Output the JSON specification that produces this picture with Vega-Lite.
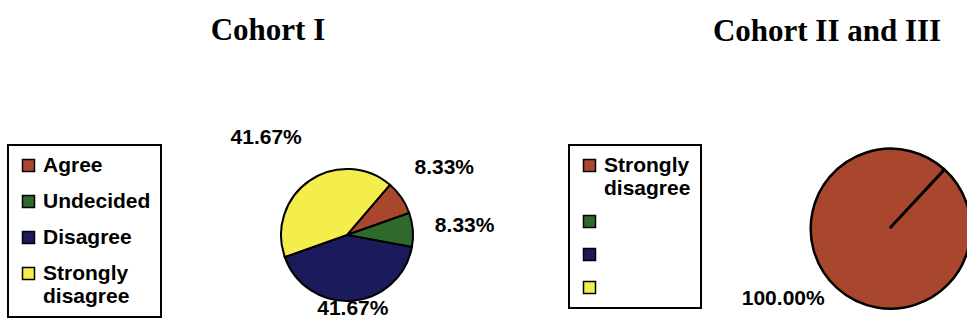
{
  "$schema": "https://vega.github.io/schema/vega-lite/v6.json",
  "background": "white",
  "padding": {"left": 7, "top": 14, "right": 0, "bottom": 0},
  "config": {"view": {"stroke": null}, "font": "Liberation Sans"},
  "spacing": 363,
  "bounds": "flush",
  "hconcat": [
    {
      "width": 200,
      "height": 200,
      "title": {"text": "Cohort I", "font": "Liberation Serif", "fontSize": 31, "fontWeight": "bold", "color": "black", "anchor": "middle", "frame": "group", "dx": -79, "offset": 80},
      "data": {"values": [
        {"cat": "Agree", "v": 0.0833, "k": 1},
        {"cat": "Undecided", "v": 0.0833, "k": 2},
        {"cat": "Disagree", "v": 0.4167, "k": 3},
        {"cat": "Strongly|disagree", "v": 0.4167, "k": 4}
      ]},
      "encoding": {
        "theta": {"field": "v", "type": "quantitative", "stack": true, "scale": {"range": [0.707, 6.990]}},
        "order": {"field": "k", "type": "quantitative"}
      },
      "layer": [
        {
          "mark": {"type": "arc", "outerRadius": 66, "stroke": "black", "strokeWidth": 2},
          "encoding": {
            "color": {
              "field": "cat", "type": "nominal",
              "scale": {"domain": ["Agree", "Undecided", "Disagree", "Strongly|disagree"], "range": ["#a8472d", "#2f6a2c", "#1b1a5a", "#f4ee4c"]},
              "legend": {
                "orient": "none", "legendX": -239, "legendY": 10, "title": null,
                "labelFont": "Liberation Sans", "labelFontSize": 21, "labelFontWeight": "bold", "labelColor": "black",
                "labelExpr": "split(datum.label, '|')",
                "symbolType": "square", "symbolSize": 144, "symbolStrokeColor": "black", "symbolStrokeWidth": 1.5,
                "strokeColor": "black", "padding": 10, "rowPadding": 14, "labelOffset": 4,
                "encode": {"legend": {"update": {"strokeWidth": {"value": 2}}}}
              }
            }
          }
        },
        {
          "mark": {"type": "text", "radius": 118, "font": "Liberation Sans", "fontSize": 21, "fontWeight": "bold", "color": "black"},
          "encoding": {"text": {"condition": {"test": "datum.cat == 'Agree' || datum.cat == 'Undecided'", "field": "v", "type": "quantitative", "format": ".2%"}, "value": ""}}
        },
        {
          "mark": {"type": "text", "radius": 118, "dx": -14, "font": "Liberation Sans", "fontSize": 21, "fontWeight": "bold", "color": "black"},
          "encoding": {"text": {"condition": {"test": "datum.cat == 'Strongly|disagree'", "field": "v", "type": "quantitative", "format": ".2%"}, "value": ""}}
        },
        {
          "mark": {"type": "text", "radius": 74, "font": "Liberation Sans", "fontSize": 21, "fontWeight": "bold", "color": "black"},
          "encoding": {"text": {"condition": {"test": "datum.cat == 'Disagree'", "field": "v", "type": "quantitative", "format": ".2%"}, "value": ""}}
        }
      ]
    },
    {
      "width": 160,
      "height": 186,
      "title": {"text": "Cohort II and III", "font": "Liberation Serif", "fontSize": 31, "fontWeight": "bold", "color": "black", "anchor": "middle", "frame": "group", "dx": -63, "offset": 87},
      "data": {"values": [
        {"cat": "Strongly|disagree", "v": 1, "k": 1},
        {"cat": " ", "v": 0, "k": 2},
        {"cat": "  ", "v": 0, "k": 3},
        {"cat": "   ", "v": 0, "k": 4}
      ]},
      "encoding": {
        "theta": {"field": "v", "type": "quantitative", "stack": true, "scale": {"range": [0.75, 7.033]}},
        "order": {"field": "k", "type": "quantitative"}
      },
      "layer": [
        {
          "mark": {"type": "arc", "outerRadius": 80, "stroke": "black", "strokeWidth": 2.5},
          "encoding": {
            "color": {
              "field": "cat", "type": "nominal",
              "scale": {"domain": ["Strongly|disagree", " ", "  ", "   "], "range": ["#a8472d", "#2f6a2c", "#1b1a5a", "#f4ee4c"]},
              "legend": {
                "orient": "none", "legendX": -241, "legendY": 10, "title": null,
                "labelFont": "Liberation Sans", "labelFontSize": 21, "labelFontWeight": "bold", "labelColor": "black",
                "labelExpr": "split(datum.label, '|')",
                "symbolType": "square", "symbolSize": 144, "symbolStrokeColor": "black", "symbolStrokeWidth": 1.5,
                "strokeColor": "black", "padding": 10, "rowPadding": 11, "labelOffset": 4,
                "encode": {"legend": {"update": {"strokeWidth": {"value": 2}}}}
              }
            }
          }
        },
        {
          "transform": [{"filter": "datum.v > 0"}],
          "mark": {"type": "text", "radius": 120, "dx": -25, "dy": -17, "font": "Liberation Sans", "fontSize": 21, "fontWeight": "bold", "color": "black"},
          "encoding": {"text": {"field": "v", "type": "quantitative", "format": ".2%"}}
        }
      ]
    }
  ],
  "resolve": {"scale": {"color": "independent", "theta": "independent"}, "legend": {"color": "independent"}}
}
